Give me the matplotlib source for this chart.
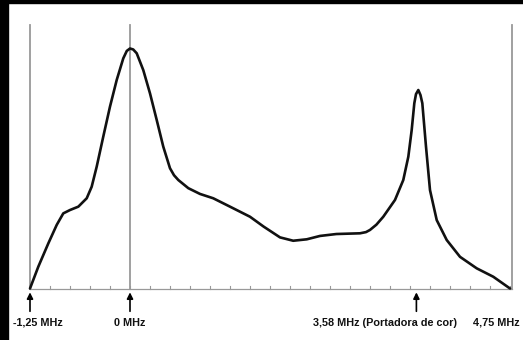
import matplotlib.pyplot as plt
from matplotlib.patches import Rectangle

# spectrum of a composite video signal (relative amplitude vs MHz)
freq = [-1.25, -1.146, -1.021, -0.916, -0.834, -0.75, -0.646, -0.541, -0.479,
        -0.416, -0.334, -0.25, -0.166, -0.084, -0.04, 0.0, 0.04, 0.084, 0.166,
        0.25, 0.334, 0.416, 0.5, 0.55, 0.604, 0.729, 0.875, 1.04, 1.25, 1.5, 1.67,
        1.875, 2.04, 2.21, 2.375, 2.58, 2.875, 2.95, 3.0, 3.08, 3.166, 3.3125,
        3.416, 3.479, 3.521, 3.554, 3.575, 3.604, 3.631, 3.654, 3.70, 3.75,
        3.834, 3.959, 4.125, 4.334, 4.541, 4.75]
amp = [0.0, 0.091, 0.188, 0.265, 0.313, 0.327, 0.341, 0.376, 0.424,
       0.508, 0.633, 0.758, 0.869, 0.959, 0.99, 1.0, 0.996, 0.98, 0.910,
       0.813, 0.702, 0.591, 0.501, 0.472, 0.452, 0.418, 0.394, 0.376, 0.341, 0.299, 0.258,
       0.213, 0.199, 0.205, 0.219, 0.227, 0.23, 0.235, 0.244, 0.266, 0.299, 0.369,
       0.452, 0.549, 0.660, 0.772, 0.81, 0.827, 0.806, 0.772, 0.591, 0.410,
       0.285, 0.202, 0.132, 0.084, 0.049, 0.0]

guide_freqs = [-1.25, 0.0, 4.77]
marker_freqs = [-1.25, 0.0, 3.58]
labels = ['-1,25 MHz', '0 MHz', '3,58 MHz (Portadora de cor)', '4,75 MHz']
label_x = [-1.15, -0.01, 3.19, 4.575]
tick_step = 0.25

W, H = 523, 340
px_per_mhz = 80
x0, x1 = -1.25, 4.82
fig = plt.figure(figsize=(W / 100, H / 100), dpi=100)
fig.patch.set_facecolor('white')
ax = fig.add_axes([30 / W, 51.5 / H, (x1 - x0) * px_per_mhz / W, 263.5 / H])
top = 263.5 / 240
ax.set_xlim(x0, x1)
ax.set_ylim(0, top)
ax.axis('off')

gray = '#999999'
# reference lines
for f in guide_freqs:
    ax.plot([f, f], [0, top], color=gray, lw=1.3, zorder=2, clip_on=False)
ax.plot([-1.25, 4.77], [0, 0], color=gray, lw=0.9, clip_on=False, zorder=1)
n = int(round((4.75 + 1.25) / tick_step))
for i in range(n + 1):
    f = -1.25 + i * tick_step
    ax.plot([f, f], [0, 0.01], color=gray, lw=0.8, clip_on=False, zorder=1)

ax.plot(freq, amp, color='#111111', lw=1.9, solid_capstyle='round',
        solid_joinstyle='round', clip_on=False, zorder=3)

for f in marker_freqs:
    ax.annotate('', xy=(f, -0.016), xytext=(f, -0.095),
                arrowprops=dict(arrowstyle='-|>', color='black', lw=1.2,
                                mutation_scale=9, shrinkA=0, shrinkB=0),
                annotation_clip=False)

for x, t in zip(label_x, labels):
    ax.text(x, -0.143, t, ha='center', va='center', fontsize=7.8,
            fontweight='bold', family=['Liberation Sans', 'DejaVu Sans'],
            color='#111111', clip_on=False)

# black frame on left and top
fig.patches.append(Rectangle((0, 0), 7.5 / W, 1, transform=fig.transFigure,
                             color='black', zorder=10))
fig.patches.append(Rectangle((0, 1 - 3 / H), 1, 3 / H, transform=fig.transFigure,
                             color='black', zorder=10))

fig.savefig('out.png', dpi=100, facecolor='white')
